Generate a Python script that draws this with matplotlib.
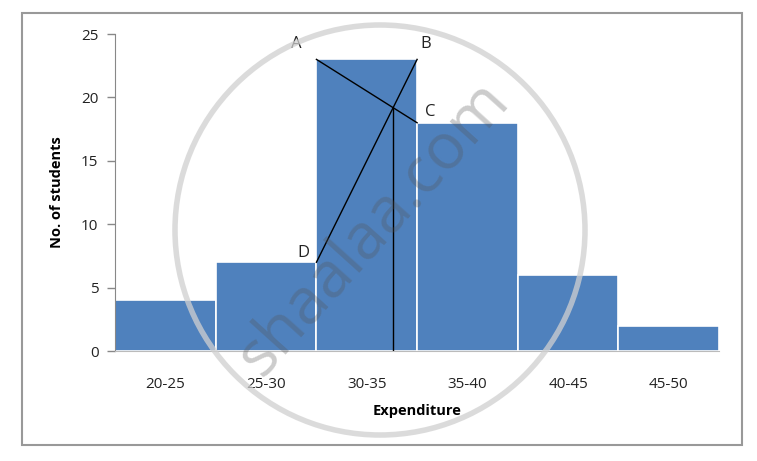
import numpy as np
import matplotlib.pyplot as plt
from matplotlib.patches import Circle, Rectangle

# data
classes = ['20-25', '25-30', '30-35', '35-40', '40-45', '45-50']
students = [4, 7, 23, 18, 6, 2]

plt.rcParams['font.family'] = ['Open Sans', 'DejaVu Sans']

fig = plt.figure(figsize=(7.57, 4.61), dpi=100)
ax = fig.add_axes([0.152, 0.2386, 0.798, 0.6876])

x = np.arange(len(classes))
ax.bar(x, students, width=1.0, color='#4f81bd', edgecolor='white', linewidth=1.2, zorder=2)

ax.set_xlim(-0.5, len(classes) - 0.5)
ax.set_ylim(0, 25)
ax.set_yticks([0, 5, 10, 15, 20, 25])
ax.set_xticks(x)
ax.set_xticklabels(classes)
ax.tick_params(axis='x', length=0, pad=19, labelsize=11, colors='#222222')
ax.tick_params(axis='y', length=6, width=1, color='#888888', pad=6, labelsize=11, labelcolor='#222222')
for s in ['top', 'right']:
    ax.spines[s].set_visible(False)
ax.spines['left'].set_color('#888888')
ax.spines['bottom'].set_color('#bbbbbb')

ax.set_xlabel('Expenditure', fontweight='bold', fontsize=10.5, labelpad=8)
ax.set_ylabel('No. of students', fontweight='bold', fontsize=10.5, labelpad=12)

# mode construction lines
i = 2
left, right = x[i] - 0.5, x[i] + 0.5
A = (left, students[i])
B = (right, students[i])
C = (right, students[i + 1])
D = (left, students[i - 1])
ax.plot([A[0], C[0]], [A[1], C[1]], color='black', lw=1, zorder=3)
ax.plot([D[0], B[0]], [D[1], B[1]], color='black', lw=1, zorder=3)
t = (A[1] - D[1]) / ((B[1] - D[1]) + (A[1] - C[1]))
xm = left + t
ym = D[1] + t * (B[1] - D[1])
ax.plot([xm, xm], [0, ym], color='black', lw=1, zorder=3)

lab_kw = dict(fontsize=12, color='#222222')
ax.annotate('A', A, xytext=(-18, 8), textcoords='offset points', **lab_kw)
ax.annotate('B', B, xytext=(2, 8), textcoords='offset points', **lab_kw)
ax.annotate('C', C, xytext=(6, 5), textcoords='offset points', **lab_kw)
ax.annotate('D', D, xytext=(-14, 4), textcoords='offset points', **lab_kw)

# overlay: frame and watermark
ov = fig.add_axes([0, 0, 1, 1], zorder=5)
ov.set_xlim(0, 757)
ov.set_ylim(461, 0)
ov.axis('off')
ov.patch.set_alpha(0)
ov.add_patch(Rectangle((22, 13), 720, 432, fill=False, ec='#999999', lw=1.5))
ov.add_patch(Circle((380, 230), 205, fill=False, ec='#d0d0d0', lw=4, alpha=0.75))
ov.text(373, 228, 'shaalaa.com', rotation=48, ha='center', va='center',
        fontsize=46, color='#555555', alpha=0.3)

fig.savefig('out.png', dpi=100)
